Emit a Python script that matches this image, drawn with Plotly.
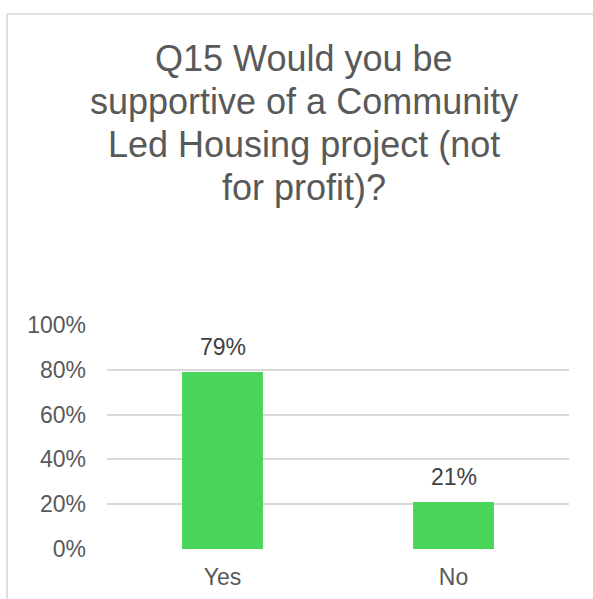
import plotly.graph_objects as go

# Survey responses
categories = ["Yes", "No"]
shares = [0.79, 0.21]
title_lines = [
    "Q15 Would you be",
    "supportive of a Community",
    "Led Housing project (not",
    "for profit)?",
]

W, H = 593, 599
ML, MR, MT, MB = 107, 24, 325, 50
PW, PH = W - ML - MR, H - MT - MB


def px_x(px):
    return (px - ML) / PW


def px_y(py):
    return (H - MB - py) / PH


FONT = "Liberation Sans, Arial, sans-serif"
GRID = "#d9d9d9"

fig = go.Figure(
    go.Bar(
        x=categories,
        y=shares,
        width=0.35,
        marker=dict(color="#48D55A", line=dict(width=0)),
        hoverinfo="skip",
    )
)

# value labels above bars
for c, v in zip(categories, shares):
    fig.add_annotation(
        x=c, y=v, xref="x", yref="y",
        text=f"{v:.0%}", showarrow=False,
        yanchor="bottom", yshift=10,
        font=dict(family=FONT, size=23, color="#404040"),
    )

# multi-line title
line_centers = [58, 101, 144, 187]
for txt, cy in zip(title_lines, line_centers):
    fig.add_annotation(
        x=px_x(304), y=px_y(cy), xref="paper", yref="paper",
        text=txt, showarrow=False, xanchor="center", yanchor="middle",
        font=dict(family=FONT, size=36, color="#595959"),
    )

# chart frame (top and left edges)
fig.add_shape(type="line", xref="paper", yref="paper",
              x0=px_x(7), x1=px_x(W + 5), y0=px_y(14), y1=px_y(14),
              line=dict(color=GRID, width=1.6))
fig.add_shape(type="line", xref="paper", yref="paper",
              x0=px_x(7), x1=px_x(7), y0=px_y(14), y1=px_y(H + 5),
              line=dict(color=GRID, width=1.6))

fig.update_layout(
    width=W, height=H, autosize=False,
    margin=dict(l=ML, r=MR, t=MT, b=MB, pad=0),
    paper_bgcolor="white", plot_bgcolor="white",
    showlegend=False,
    font=dict(family=FONT, size=23, color="#595959"),
    xaxis=dict(
        showgrid=False, showline=False, zeroline=False,
        ticks="", ticklabelstandoff=12, automargin=False,
        tickfont=dict(family=FONT, size=23, color="#595959"),
    ),
    yaxis=dict(
        range=[0, 1], dtick=0.2, tickformat=".0%",
        showgrid=True, gridcolor=GRID, gridwidth=1.6,
        showline=False, zeroline=False, ticks="",
        ticklabelstandoff=20, automargin=False,
        tickfont=dict(family=FONT, size=23, color="#595959"),
    ),
)

fig.write_html("out.html")
